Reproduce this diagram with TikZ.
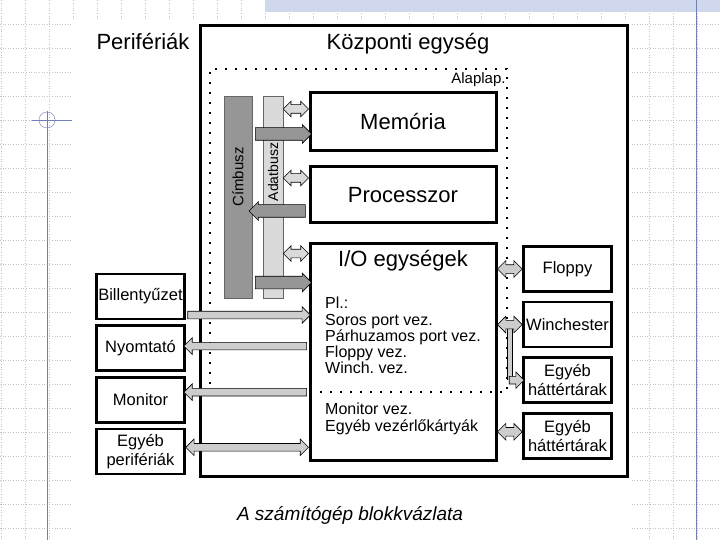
\documentclass[tikz,border=0pt]{standalone}
\usepackage{fontspec}
\setmainfont{Liberation Sans}
\usetikzlibrary{arrows.meta,positioning,calc,shapes.arrows}
\definecolor{slidegrid}{RGB}{195,195,195}
\definecolor{slideblue}{RGB}{112,128,182}
\definecolor{slidebar}{RGB}{208,216,238}
\definecolor{busdark}{RGB}{150,150,150}
\definecolor{buslight}{RGB}{218,218,218}
\definecolor{pipefill}{RGB}{205,205,205}
\frenchspacing

% fat arrow node stretched between two points
\newcommand\fatarr[3]{%
  \path let \p1=(#2), \p2=(#3),
    \n1={veclen(\x2-\x1,\y2-\y1)}, \n2={atan2(\y2-\y1,\x2-\x1)} in
    node[#1, minimum height=\n1, rotate=\n2] at ($(\p1)!0.5!(\p2)$) {};}

\begin{document}
\begin{tikzpicture}[x=1pt, y=-1pt, node distance=6pt,
  every node/.style={font=\fontsize{16.5}{19}\selectfont},
  bigtxt/.style={font=\fontsize{22}{24}\selectfont},
  unit/.style={draw, line width=3pt, fill=white, minimum width=186pt, bigtxt},
  periph/.style={draw, line width=2.6pt, fill=white, minimum width=88pt, minimum height=45pt, align=center, inner sep=1pt},
  iotxt/.style={align=left, inner sep=0pt, anchor=north west, font=\fontsize{16}{16.3}\selectfont},
  mbframe/.style={draw, line width=1.6pt, dash pattern=on 1.6pt off 8.4pt},
  busbar/.style={minimum width=#1, minimum height=202pt, inner sep=0pt, draw=black!60, line width=0.4pt},
  buslabel/.style={rotate=90, inner sep=0pt},
  fatbase/.style={draw, line width=0.6pt, inner sep=0pt},
  adatarr/.style={fatbase, double arrow, fill=buslight, inner ysep=4pt, double arrow head extend=3.5pt},
  cimarr/.style={fatbase, single arrow, fill=busdark, inner ysep=6pt, single arrow head extend=3pt},
  perarr/.style={fatbase, single arrow, fill=pipefill, inner ysep=3.5pt, single arrow head extend=4.5pt},
  perboth/.style={fatbase, double arrow, fill=pipefill, inner ysep=3.5pt, double arrow head extend=4.5pt},
  tararr/.style={fatbase, double arrow, fill=pipefill, inner ysep=4pt, double arrow head extend=4pt},
  lshaft/.style={draw=black, line width=0.6pt, double=pipefill, double distance=4.5pt}]
\useasboundingbox (0,0) rectangle (720,540);
% slide background
\foreach \gx in {1,25,...,697} \draw[slidegrid, dotted, line width=0.6pt] (\gx,0) -- (\gx,540);
\foreach \gy in {24,48,...,528} \draw[slidegrid, dotted, line width=0.6pt] (0,\gy) -- (720,\gy);
\fill[white] (72,19) rectangle (630,540);
\fill[slidebar] (265,0) rectangle (720,12);
\draw[slideblue] (696,0) -- (696,540);
\draw[slideblue] (47,111) -- (47,540);
\draw[slideblue] (32,120) -- (72,120);
\draw[slideblue] (47,120) circle[radius=8pt];

% central unit
\node[draw, line width=3pt, minimum width=427pt, minimum height=450pt] (ku) at (413.5,251) {};
\node[bigtxt] (perlabel) at (143,42) {Perifériák};
\node[bigtxt] (kulabel) at (408,44) {Központi egység};

\node[unit, minimum height=58pt] (mem) at (403,122) {Memória};
\node[unit, minimum height=56pt, below=13pt of mem] (proc) {Processzor};
\node[unit, minimum height=217pt, below=17pt of proc] (io) {};
\node[bigtxt, inner sep=2pt, below=7pt of io.north] (iolabel) {I/O egységek};
\node[iotxt] (iolist) at (325,297) {Pl.:\\Soros port vez.\\Párhuzamos port vez.\\Floppy vez.\\Winch. vez.};
\node[iotxt] (iolist2) at (325,403) {Monitor vez.\\Egyéb vezérlőkártyák};

% motherboard
\node[mbframe, minimum width=297pt, minimum height=323pt] (mb) at (358.5,230.5) {};
\node[anchor=north east, inner sep=1pt, font=\fontsize{15}{16}\selectfont] (mblabel) at ([xshift=-1pt,yshift=-3pt]mb.north east) {Alaplap.};

% buses
\node[busbar=28pt, fill=busdark] (cimbusz) at (238,197) {};
\node[busbar=20pt, fill=buslight] (adatbusz) at (273,197) {};
\node[buslabel, font=\fontsize{15}{16}\selectfont] at ([yshift=20pt]cimbusz.center) {Címbusz};
\node[buslabel, font=\fontsize{14}{15}\selectfont] at ([yshift=25pt]adatbusz.center) {Adatbusz};

\coordinate (memadat) at ($(mem.west)+(0,-13)$);
\coordinate (memcim) at ($(mem.west)+(0,12)$);
\coordinate (procadat) at ($(proc.west)+(0,-17)$);
\coordinate (proccim) at ($(proc.west)+(0,16)$);
\coordinate (ioadat) at ($(io.north west)+(0,12)$);
\coordinate (iocim) at ($(io.north west)+(0,41)$);
\fatarr{adatarr}{adatbusz.east |- memadat}{memadat}
\fatarr{cimarr}{cimbusz.east |- memcim}{memcim}
\fatarr{adatarr}{adatbusz.east |- procadat}{procadat}
\fatarr{cimarr}{proccim}{cimbusz.east |- proccim}
\fatarr{adatarr}{adatbusz.east |- ioadat}{ioadat}
\fatarr{cimarr}{cimbusz.east |- iocim}{iocim}

% peripherals
\node[periph] (bill) at (140.5,296.5) {Billentyűzet};
\node[periph, below=4pt of bill] (nyom) {Nyomtató};
\node[periph, below=4pt of nyom] (mon) {Monitor};
\node[periph, below=4pt of mon] (egyper) {Egyéb\\perifériák};

\coordinate (billrow) at ($(bill.east)+(0,18.5)$);
\coordinate (nyomrow) at ($(nyom.east)+(0,-2)$);
\coordinate (monrow) at ($(mon.east)+(0,-7.5)$);
\coordinate (egyrow) at ($(egyper.east)+(0,-4)$);
\fatarr{perarr}{billrow}{io.west |- billrow}
\fatarr{perarr}{io.west |- nyomrow}{nyomrow}
\fatarr{perarr}{io.west |- monrow}{monrow}
\fatarr{perboth}{egyrow}{io.west |- egyrow}

% storage
\node[periph] (floppy) at (567.5,269) {Floppy};
\node[periph, below=8pt of floppy] (winch) {Winchester};
\node[periph, below=8pt of winch] (hat1) {Egyéb\\háttértárak};
\node[periph, below=8pt of hat1] (hat2) {Egyéb\\háttértárak};

\coordinate (lmid) at ($(io.east |- winch.west)!0.5!(winch.west)$);
\coordinate (lbot) at (lmid |- hat1.west);
\coordinate (hat2row) at ($(hat2.west)+(0,-4)$);
\draw[lshaft] (lmid) -- (lbot);
\fatarr{tararr}{io.east |- floppy.west}{floppy.west}
\fatarr{tararr}{io.east |- winch.west}{winch.west}
\fatarr{perarr}{[xshift=-2.5pt]lbot}{hat1.west}
\fatarr{tararr}{io.east |- hat2row}{hat2row}

\node[font=\fontsize{19}{22}\selectfont\itshape] (caption) at (350,515) {A számítógép blokkvázlata};
\end{tikzpicture}
\end{document}
